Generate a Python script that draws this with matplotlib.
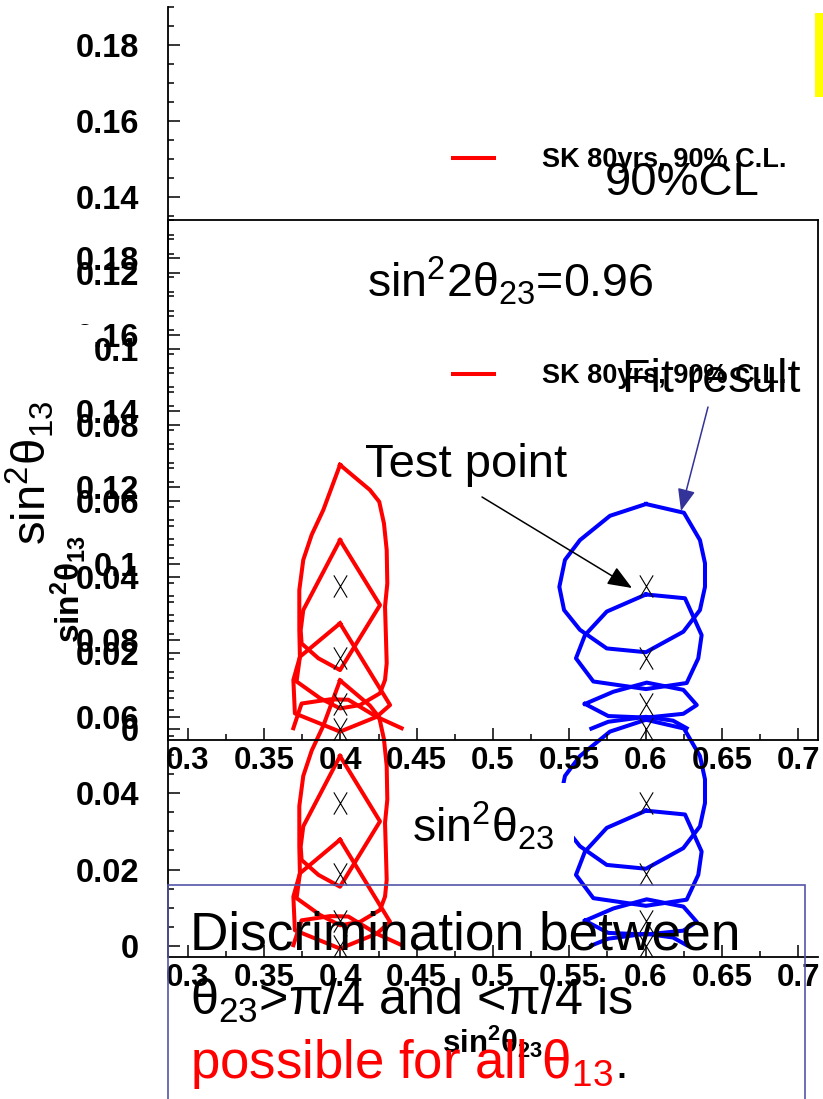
import matplotlib
matplotlib.use('Agg')
import matplotlib.pyplot as plt
from matplotlib.path import Path
from matplotlib.patches import Rectangle, FancyArrowPatch

plt.rcParams['font.family'] = ['Liberation Sans', 'DejaVu Sans']
plt.rcParams['mathtext.fontset'] = 'custom'
plt.rcParams['mathtext.rm'] = 'Liberation Sans'
plt.rcParams['mathtext.it'] = 'Liberation Sans'
plt.rcParams['mathtext.bf'] = 'Liberation Sans:bold'
plt.rcParams['mathtext.default'] = 'rm'

# ---------------- data ----------------
x_ticks = [0.3, 0.35, 0.4, 0.45, 0.5, 0.55, 0.6, 0.65, 0.7]
x_tick_labels = ['0.3', '0.35', '0.4', '0.45', '0.5', '0.55', '0.6', '0.65', '0.7']
x_minor = [0.325, 0.375, 0.425, 0.475, 0.525, 0.575, 0.625, 0.675]
y_ticks = [0, 0.02, 0.04, 0.06, 0.08, 0.1, 0.12, 0.14, 0.16, 0.18]
y_tick_labels = ['0', '0.02', '0.04', '0.06', '0.08', '0.1', '0.12', '0.14', '0.16', '0.18']
y_minor = [0.005 * k for k in range(1, 39) if k % 4 != 0]

# test points (sin^2 theta23, sin^2 theta13)
test_x_low = [0.4, 0.4, 0.4, 0.4]
test_x_high = [0.6, 0.6, 0.6, 0.6]
test_y = [0.0375, 0.0187, 0.0065, 0.0]

# 90% C.L. contours, theta23 = 0.4 (red)
red_a_x = [0.3997, 0.4193, 0.4254, 0.4285, 0.4303, 0.4307, 0.4292, 0.4298, 0.4303, 0.4292,
           0.4259, 0.4128, 0.3997, 0.3866, 0.3712, 0.3734, 0.3730, 0.3730, 0.3756, 0.3811,
           0.3887, 0.3997]
red_a_y = [0.0695, 0.0629, 0.0598, 0.0541, 0.0471, 0.0383, 0.0322, 0.0243, 0.0173, 0.0129,
           0.0094, 0.0063, 0.0054, 0.0081, 0.0125, 0.0190, 0.0260, 0.0366, 0.0445, 0.0511,
           0.0576, 0.0695]
red_b_x = [0.3997, 0.4259, 0.3997, 0.3855, 0.3745, 0.3739, 0.3756, 0.3997]
red_b_y = [0.0497, 0.0326, 0.0155, 0.0186, 0.0225, 0.0260, 0.0313, 0.0497]
red_c_x = [0.3997, 0.4325, 0.4237, 0.3997, 0.3701, 0.3691, 0.3734, 0.3997]
red_c_y = [0.0278, 0.0063, 0.0032, -0.0007, 0.0041, 0.0129, 0.0190, 0.0278]
red_d_x = [0.3691, 0.3745, 0.3931, 0.4051, 0.4237, 0.4401]
red_d_y = [0.0002, 0.0067, 0.0078, 0.0077, 0.0032, 0.0002]

# 90% C.L. contours, theta23 = 0.6 (blue)
blue_a_x = [0.6003, 0.5767, 0.5570, 0.5472, 0.5435, 0.5466, 0.5570, 0.5746, 0.6003, 0.6248,
            0.6357, 0.6390, 0.6390, 0.6357, 0.6252, 0.6003]
blue_a_y = [0.0592, 0.0561, 0.0497, 0.0445, 0.0374, 0.0313, 0.0261, 0.0212, 0.0202, 0.0256,
            0.0313, 0.0374, 0.0436, 0.0497, 0.0569, 0.0592]
blue_b_x = [0.6003, 0.5746, 0.5603, 0.5544, 0.5658, 0.6003, 0.6270, 0.6346, 0.6368, 0.6259, 0.6003]
blue_b_y = [0.0354, 0.0309, 0.0247, 0.0186, 0.0125, 0.0105, 0.0121, 0.0186, 0.0247, 0.0344, 0.0354]
blue_c_x = [0.5603, 0.5789, 0.6008, 0.6248, 0.6336, 0.6248, 0.6008, 0.5756, 0.5603]
blue_c_y = [0.0066, 0.0098, 0.0122, 0.0103, 0.0063, 0.0040, 0.0030, 0.0034, 0.0066]
blue_d_x = [0.5645, 0.5756, 0.6003, 0.6180, 0.6270]
blue_d_y = [0.0001, 0.0019, 0.0032, 0.0022, 0.0002]

red_contours = [(red_a_x, red_a_y), (red_b_x, red_b_y), (red_c_x, red_c_y), (red_d_x, red_d_y)]
blue_contours = [(blue_a_x, blue_a_y), (blue_b_x, blue_b_y), (blue_c_x, blue_c_y), (blue_d_x, blue_d_y)]

legend_label = 'SK 80yrs, 90% C.L.'

# ---------------- figure ----------------
W, H = 823, 1099
fig = plt.figure(figsize=(W / 100, H / 100), dpi=100)
fig.patch.set_facecolor('white')


def fx(px):
    return px / W


def fy(py):
    return 1 - py / H


XLIM = (0.2869, 0.7131)
YLIM = (-0.0029, 0.19)

axB = fig.add_axes([fx(168), fy(957), fx(818) - fx(168), (957 - 220) / H], zorder=0)
axA = fig.add_axes([fx(168), fy(740), fx(818) - fx(168), (740 - 7) / H], zorder=1)

cross = Path([(-0.6, -1), (0.6, 1), (-0.6, 1), (0.6, -1)],
             [Path.MOVETO, Path.LINETO, Path.MOVETO, Path.LINETO])

for ax in (axA, axB):
    ax.patch.set_visible(False)
    ax.set_xlim(XLIM)
    ax.set_ylim(YLIM)
    ax.set_xticks(x_ticks)
    ax.set_xticklabels(x_tick_labels, fontsize=22.5, fontweight='bold')
    ax.set_xticks(x_minor, minor=True)
    ax.set_yticks(y_ticks)
    ax.set_yticklabels(y_tick_labels, fontsize=23.5, fontweight='bold')
    ax.set_yticks(y_minor, minor=True)
    ax.tick_params(which='both', direction='in', top=False, right=False,
                   width=1.1, color='black')
    ax.tick_params(which='major', length=8.8)
    ax.tick_params(which='minor', length=4.2)
    ax.tick_params(axis='y', which='both', pad=21)
    ax.tick_params(axis='x', which='both', pad=4)
    for sp in ax.spines.values():
        sp.set_linewidth(1.3)
    handles = []
    for xs, ys in red_contours:
        h, = ax.plot(xs, ys, color='#ff0000', lw=2.9)
        handles.append(h)
    for xs, ys in blue_contours:
        ax.plot(xs, ys, color='#0000ff', lw=2.9)
    ax.plot(test_x_low, test_y, ls='none', marker=cross, ms=16, mec='black', mew=0.8)
    ax.plot(test_x_high, test_y, ls='none', marker=cross, ms=16, mec='black', mew=0.8)
    ax._red_handle = handles[0]

axB.spines['right'].set_visible(False)
axA.spines['top'].set_visible(False)
axA.spines['right'].set_bounds(YLIM[0], 0.134)

for ax, py in ((axA, 160), (axB, 376)):
    ax.legend(handles=[ax._red_handle], labels=[legend_label], loc='center left',
              bbox_to_anchor=(fx(453), fy(py)), bbox_transform=fig.transFigure,
              frameon=False, prop=dict(weight='bold', size=19.5),
              handlelength=1.5, handletextpad=1.8, borderpad=0, borderaxespad=0)

# white cover boxes from the slide layout
fig.patches.append(Rectangle((fx(395), fy(857)), fx(574) - fx(395), (857 - 783) / H,
                             transform=fig.transFigure, facecolor='white',
                             edgecolor='none', zorder=0.5))
fig.patches.append(Rectangle((0, fy(400)), fx(95), (400 - 325) / H,
                             transform=fig.transFigure, facecolor='white',
                             edgecolor='none', zorder=0.5))

# axis titles of the ROOT plot (lower one)
fig.text(fx(442), fy(1053), r'sin$^{\mathbf{2}}$θ$_{\mathbf{23}}$', fontsize=22.5,
         fontweight='bold', ha='left', va='baseline')
fig.text(fx(80), fy(643), r'sin$^{\mathbf{2}}$θ$_{\mathbf{13}}$', fontsize=24,
         fontweight='bold', ha='left', va='baseline', rotation=90, rotation_mode='anchor')

# slide annotations
big = 34
fig.text(fx(367), fy(297), r'sin$^2$2θ$_{23}$=0.96', fontsize=33.5, ha='left', va='baseline')
fig.text(fx(605), fy(195), '90%CL', fontsize=big, ha='left', va='baseline')
fig.text(fx(622), fy(392), 'Fit result', fontsize=33.5, ha='left', va='baseline')
fig.text(fx(365), fy(477), 'Test point', fontsize=big, ha='left', va='baseline')
fig.text(fx(46), fy(545), r'sin$^2$θ$_{13}$', fontsize=big, ha='left', va='baseline',
         rotation=90, rotation_mode='anchor')
fig.text(fx(412), fy(842), r'sin$^2$θ$_{23}$', fontsize=33.5, ha='left', va='baseline', zorder=3)

fig.text(fx(190), fy(950), 'Discrimination between', fontsize=38.3, ha='left', va='baseline')
fig.text(fx(190), fy(1015), r'θ$_{23}$>π/4 and <π/4 is', fontsize=36.2, ha='left', va='baseline')
fig.text(fx(190), fy(1078), r'possible for all θ$_{13}$', fontsize=38, ha='left',
         va='baseline', color='#ff0000')
fig.text(fx(614), fy(1078), '.', fontsize=36, ha='left', va='baseline', color='black')

fig.patches.append(Rectangle((fx(168), fy(1110)), fx(805) - fx(168), (1110 - 885) / H,
                             transform=fig.transFigure, facecolor='none',
                             edgecolor='#5555aa', lw=1.2, zorder=2))
fig.patches.append(Rectangle((fx(815), fy(97)), fx(823) - fx(815), (97 - 13) / H,
                             transform=fig.transFigure, facecolor='#ffff00',
                             edgecolor='none', zorder=2))

fig.patches.append(FancyArrowPatch((fx(482), fy(497)), (fx(632), fy(588)),
                                   transform=fig.transFigure,
                                   arrowstyle='-|>,head_length=0.75,head_width=0.3',
                                   mutation_scale=20, lw=1.1, color='black',
                                   shrinkA=0, shrinkB=0, zorder=3))
fig.patches.append(FancyArrowPatch((fx(708), fy(407)), (fx(681), fy(511)),
                                   transform=fig.transFigure,
                                   arrowstyle='-|>,head_length=0.75,head_width=0.3',
                                   mutation_scale=18, lw=1.1, color='#333399',
                                   shrinkA=0, shrinkB=0, zorder=3))

fig.savefig('out.png', dpi=100)
